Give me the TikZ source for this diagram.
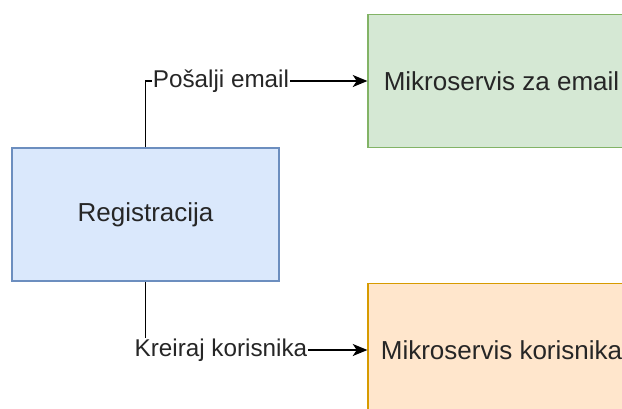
\documentclass[tikz,border=0pt]{standalone}
\usepackage{fontspec}
\setmainfont{Liberation Sans}
\usetikzlibrary{arrows.meta}
\definecolor{blueFill}{HTML}{DAE8FC}
\definecolor{blueLine}{HTML}{6C8EBF}
\definecolor{greenFill}{HTML}{D5E8D4}
\definecolor{greenLine}{HTML}{82B366}
\definecolor{orangeFill}{HTML}{FFE6CC}
\definecolor{orangeLine}{HTML}{D79B00}
\tikzset{%
    service/.style={%
        draw, line width=1.1pt, minimum width=200pt, minimum height=100pt,
        inner sep=0pt, font=\fontsize{19.5}{23}\selectfont, text=black!85
    },
    call/.style={%
        line width=1.3pt, -{Stealth[length=11pt,width=9pt,inset=3pt]}
    },
    calltext/.style={%
        fill=white, inner sep=0.8pt, font=\fontsize{18.2}{22}\selectfont, text=black!85
    }
}

\begin{document}
\begin{tikzpicture}[x=0.75pt,y=-0.75pt]
    \clip (0,0) rectangle (622,408);

    \node[service,fill=blueFill,draw=blueLine] (reg) at (145.5,214.5) {Registracija};
    \node[service,fill=greenFill,draw=greenLine] (email) at (501.5,81) {Mikroservis za email};
    \node[service,fill=orangeFill,draw=orangeLine] (users) at (501.5,350) {Mikroservis korisnika};

	\draw[call] (reg.north) |- (email.west) node[calltext,pos=0.67] {Pošalji email};
	\draw[call] (reg.south) |- (users.west) node[calltext,pos=0.67] {Kreiraj korisnika};
\end{tikzpicture}
\end{document}
